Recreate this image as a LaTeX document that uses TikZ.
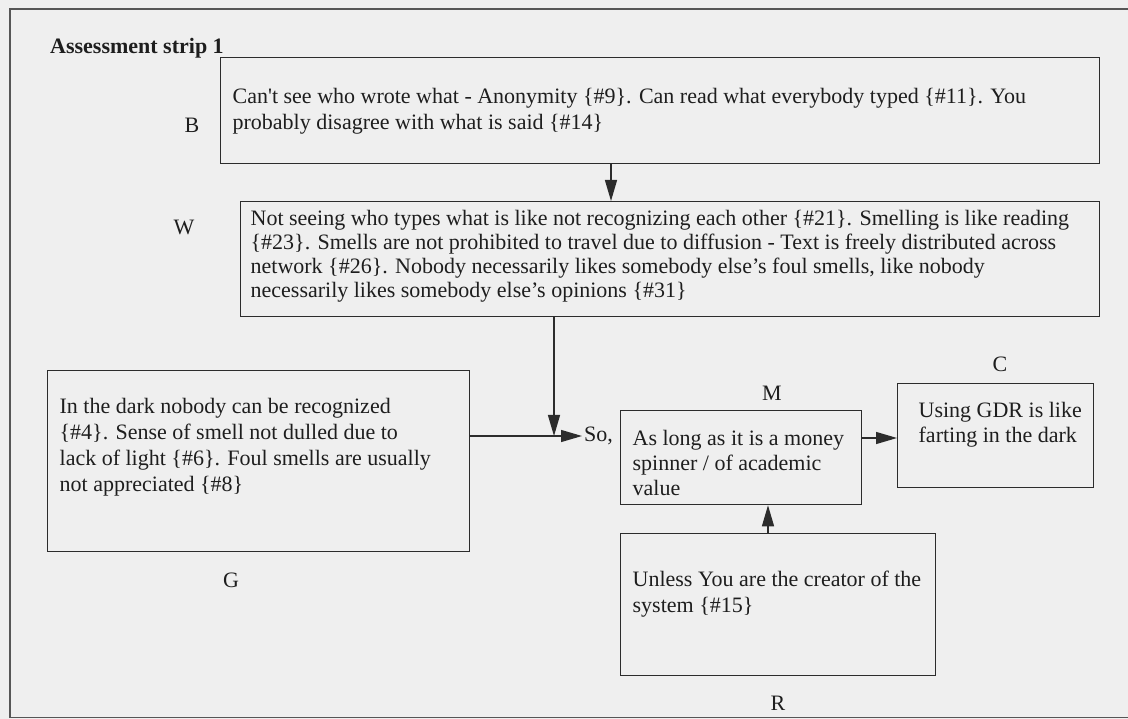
\documentclass[tikz,border=0pt]{standalone}
\usepackage{fontspec}
\setmainfont{Liberation Serif}
\usetikzlibrary{arrows.meta}
\definecolor{paper}{HTML}{EFEFEF}
\definecolor{ink}{HTML}{1E1E1E}
\definecolor{lin}{HTML}{2C2C2C}
% width, height, dx, dy, leading, text
\newcommand\boxtxt[6]{\parbox[c][#2pt][t]{#1pt}{\fontsize{22}{#5}\selectfont\vspace*{#4pt}\hspace*{#3pt}\begin{tabular}[t]{@{}l@{}}#6\end{tabular}}}
\tikzset{
  box/.style={draw=lin, line width=1.3pt, inner sep=0pt, anchor=north west, text=ink},
  lab/.style={inner sep=0pt, text=ink, font=\fontsize{22}{26}\selectfont},
  arr/.style={draw=lin, line width=1.3pt, -{Triangle[length=21pt,width=12pt]}},
  frame/.style={draw=lin!80, line width=1.3pt}
}
\begin{document}
\begin{tikzpicture}[x=1pt,y=-1pt]
\fill[paper] (0,0) rectangle (1128,719);
\useasboundingbox (0,0) rectangle (1128,719);
% page frame
\draw[frame] (1128,9) -- (10,9) -- (10,717.5) -- (1128,717.5);
% title
\node[lab, anchor=base west, font=\fontsize{22}{26}\selectfont\bfseries] (title) at (50,54) {Assessment strip 1};
% boxes
\node[box] (B) at (220,57) {\boxtxt{879}{106}{12}{28}{26}{Can\textquotesingle t see who wrote what - Anonymity \{\#9\}. Can read what everybody typed \{\#11\}. You\\ probably disagree with what is said \{\#14\}}};
\node[box] (W) at (240,201) {\boxtxt{859}{115}{10}{7}{24}{Not seeing who types what is like not recognizing each other \{\#21\}. Smelling is like reading\\ \{\#23\}. Smells are not prohibited to travel due to diffusion - Text is freely distributed across\\ network \{\#26\}. Nobody necessarily likes somebody else’s foul smells, like nobody\\ necessarily likes somebody else’s opinions \{\#31\}}};
\node[box] (G) at (47,370) {\boxtxt{422}{181}{12}{25}{26}{In the dark nobody can be recognized\\ \{\#4\}. Sense of smell not dulled due to\\ lack of light \{\#6\}. Foul smells are usually\\ not appreciated \{\#8\}}};
\node[box] (M) at (620,410) {\boxtxt{241}{94}{12}{17.5}{25}{As long as it is a money\\ spinner / of academic\\ value}};
\node[box] (C) at (897,383) {\boxtxt{196}{104}{21}{16.5}{25}{Using GDR is like\\ farting in the dark}};
\node[box] (R) at (620,533) {\boxtxt{315}{142}{12}{35}{26}{Unless You are the creator of the\\ system \{\#15\}}};
% letter labels
\node[lab] (lB) at (192,125) {B};
\node[lab] (lW) at (184,227) {W};
\node[lab] (lG) at (231,580) {G};
\node[lab] (lM) at (772,393) {M};
\node[lab] (lC) at (1000,364) {C};
\node[lab] (lR) at (778,703) {R};
% "So," label
\node[lab, anchor=west, inner xsep=2pt] (So) at (582,436) {So,};
% helper coordinates
\coordinate (J) at (554,436);
\coordinate (bw) at (611,0);
\coordinate (mc) at (0,438);
\coordinate (rm) at (768,0);
% connectors
\draw[arr] (B.south -| bw) -- (W.north -| bw);
\draw[arr] (W.south -| J) -- (J);
\draw[arr] (G.east |- J) -- (So.west);
\draw[arr] (M.east |- mc) -- (C.west |- mc);
\draw[arr] (R.north -| rm) -- (M.south -| rm);
\end{tikzpicture}
\end{document}
